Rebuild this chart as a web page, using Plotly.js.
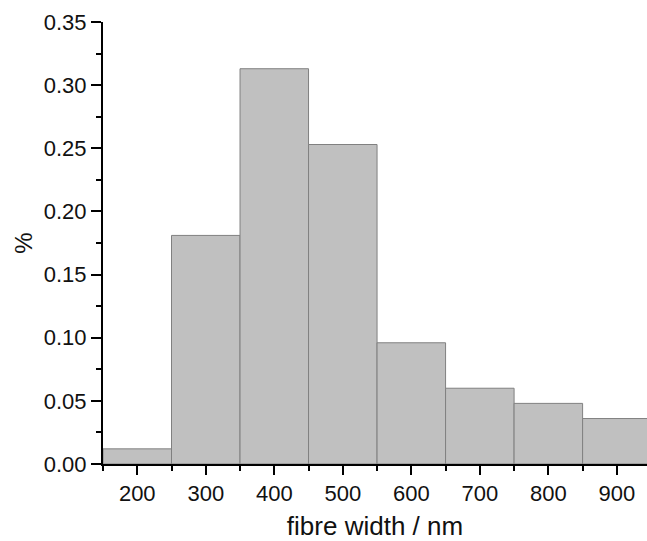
<!DOCTYPE html>
<html>
<head>
<meta charset="utf-8">
<script src="https://cdn.plot.ly/plotly-3.0.1.min.js"></script>
<style>html,body{margin:0;padding:0;overflow:hidden;background:#fff}</style>
</head>
<body>
<div id="chart" style="width:647px;height:541px"></div>
<script>
const binCenters = [200, 300, 400, 500, 600, 700, 800, 900];
const fractions = [0.012, 0.181, 0.313, 0.253, 0.096, 0.060, 0.048, 0.036];
const xTicks = [200, 300, 400, 500, 600, 700, 800, 900];
const xTickLabels = ['200', '300', '400', '500', '600', '700', '800', '900'];
const binWidth = 100;

const trace = {
  type: 'bar',
  x: binCenters,
  y: fractions,
  width: binCenters.map(() => binWidth),
  marker: { color: '#c0c0c0', line: { color: '#808080', width: 1 } },
  hoverinfo: 'x+y'
};

const fontFam = '"Liberation Sans", Arial, sans-serif';
const layout = {
  width: 647, height: 541,
  margin: { l: 103, r: 0, t: 22, b: 77 },
  paper_bgcolor: '#fff', plot_bgcolor: '#fff',
  bargap: 0,
  showlegend: false,
  font: { family: fontFam, color: '#000', size: 22 },
  xaxis: {
    range: [150, 944],
    tickmode: 'array', tickvals: xTicks, ticktext: xTickLabels,
    ticks: 'outside', ticklen: 9, tickwidth: 2, tickcolor: '#000',
    showline: true, linecolor: '#000', linewidth: 2,
    showgrid: false, zeroline: false,
    tickfont: { size: 22, family: fontFam, color: '#111' },
    minor: { tick0: 150, dtick: 100, ticks: 'outside', ticklen: 5, tickwidth: 2, tickcolor: '#000', showgrid: false },
    title: { text: 'fibre width / nm', font: { size: 26, family: fontFam, color: '#111' }, standoff: 16 },
    fixedrange: true
  },
  yaxis: {
    range: [0, 0.35],
    tick0: 0, dtick: 0.05, tickformat: '.2f',
    ticks: 'outside', ticklen: 10, tickwidth: 2, tickcolor: '#000',
    showline: true, linecolor: '#000', linewidth: 2,
    showgrid: false, zeroline: false,
    tickfont: { size: 22, family: fontFam, color: '#111' },
    minor: { dtick: 0.025, ticks: 'outside', ticklen: 5, tickwidth: 2, tickcolor: '#000', showgrid: false },
    title: { text: '%', font: { size: 24, family: fontFam, color: '#111' }, standoff: 4 },
    fixedrange: true
  }
};

Plotly.newPlot('chart', [trace], layout, { displayModeBar: false, staticPlot: true });
</script>
</body>
</html>
